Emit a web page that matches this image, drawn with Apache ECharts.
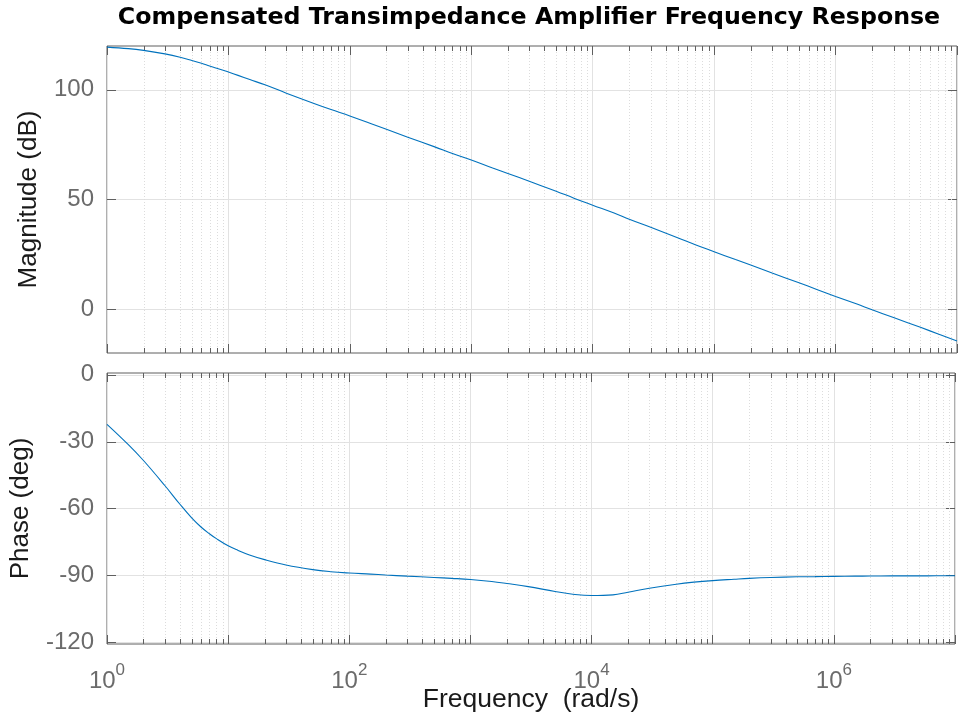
<!DOCTYPE html>
<html>
<head>
<meta charset="utf-8">
<script src="https://cdn.jsdelivr.net/npm/echarts@6/dist/echarts.min.js"></script>
<style>
html,body{margin:0;padding:0;background:#fff;}
#chart{width:958px;height:723px;}
</style>
</head>
<body>
<div id="chart"></div>
<script>
// ---- data ----
const freq = [1, 1.5, 2, 3, 4, 5, 6, 7, 8,
              10, 12, 15, 20, 30, 50, 70,
              100, 150, 200, 300, 500, 700,
              1000, 1500, 2000, 3000, 5000, 7000,
              1e4, 1.5e4, 2e4, 3e4, 5e4, 7e4,
              1e5, 1.5e5, 2e5, 3e5, 5e5, 7e5,
              1e6, 1.5e6, 2e6, 3e6, 5e6, 7e6, 1e7];
const magnitude = [119.5, 118.8, 118.0, 116.4, 114.9, 113.4, 112.1, 110.9, 109.9,
                   108.1, 106.6, 104.7, 102.3, 98.5, 93.9, 91.0,
                   88.1, 84.5, 82.0, 78.4, 74.0, 71.0,
                   68.0, 64.4, 61.9, 58.3, 53.8, 50.6,
                   47.4, 43.8, 41.0, 37.3, 32.6, 29.4,
                   26.2, 22.6, 20.1, 16.5, 12.0, 9.0,
                   5.8, 2.3, -0.3, -3.8, -8.3, -11.3, -14.5];
const phase = [-22.2, -31.3, -38.4, -49.6, -58.0, -64.1, -68.3, -71.2, -73.4,
               -76.6, -78.6, -80.7, -82.8, -85.2, -87.3, -88.2,
               -88.8, -89.3, -89.7, -90.2, -90.8, -91.2,
               -91.7, -92.6, -93.5, -94.9, -97.1, -98.3,
               -98.9, -98.6, -97.4, -95.6, -93.8, -92.9,
               -92.2, -91.6, -91.2, -90.8, -90.5, -90.4,
               -90.3, -90.2, -90.15, -90.1, -90.1, -90.05, -90.05];

// ---- axis ticks / labels ----
const decades = [1, 10, 100, 1000, 1e4, 1e5, 1e6];
const minorMultipliers = [2, 3, 4, 5, 6, 7, 8, 9];
const xLabelExponents = [0, 2, 4, 6];
const magTicks = [0, 50, 100];
const phaseTicks = [-120, -90, -60, -30, 0];

const minorFreqs = [];
decades.forEach(d => minorMultipliers.forEach(m => minorFreqs.push(m * d)));

const GL = 107, GR = 1, GW = 850;
const frameColor = '#5f5f5f';
const labelColor = '#6b6b6b';
const FONT = 'Liberation Sans, Arial, sans-serif';

const chart = echarts.init(document.getElementById('chart'), null, {renderer: 'canvas'});

function xAxisDef(gridIndex, pos, withLabels) {
  const ax = {
    type: 'log', logBase: 10, min: 1, max: 1e7, interval: 1,
    gridIndex: gridIndex, position: pos,
    axisLine: {show: false, onZero: false},
    axisTick: {show: true, inside: true, length: 9, lineStyle: {color: frameColor, width: 1}},
    axisLabel: {show: false},
    splitLine: {show: pos === 'bottom', lineStyle: {color: '#e2e2e2', width: 1}},
    minorTick: {show: false}, minorSplitLine: {show: false}
  };
  if (withLabels) {
    ax.axisLabel = {
      show: true, margin: 18, color: labelColor, fontFamily: FONT,
      formatter: function (v) {
        const e = Math.round(Math.log10(v));
        return xLabelExponents.indexOf(e) >= 0 ? '{b|10}{s|' + e + '}' : '';
      },
      rich: {
        b: {fontSize: 24, fontFamily: FONT, color: labelColor, verticalAlign: 'bottom', lineHeight: 31},
        s: {fontSize: 17, fontFamily: FONT, color: labelColor, verticalAlign: 'top', lineHeight: 31}
      }
    };
    ax.name = 'Frequency  (rad/s)';
    ax.nameLocation = 'middle';
    ax.nameGap = 42;
    ax.nameMoveOverlap = false;
    ax.nameTextStyle = {fontSize: 26.5, fontFamily: FONT, color: '#1a1a1a'};
  }
  return ax;
}

function yAxisDef(gridIndex, pos, min, max, ticks, name, nameGap) {
  const ax = {
    type: 'value', gridIndex: gridIndex, position: pos, min: min, max: max,
    axisLine: {show: false, onZero: false},
    axisTick: {show: true, inside: true, length: 9, customValues: ticks, lineStyle: {color: frameColor, width: 1}},
    axisLabel: {show: pos === 'left', customValues: ticks, margin: 13, fontSize: 24, fontFamily: FONT, color: labelColor},
    splitLine: {show: pos === 'left', lineStyle: {color: '#e2e2e2', width: 1}}
  };
  if (name) {
    ax.name = name;
    ax.nameLocation = 'middle';
    ax.nameRotate = 90;
    ax.nameGap = nameGap;
    ax.nameMoveOverlap = false;
    ax.nameTextStyle = {fontSize: 26, fontFamily: FONT, color: '#1a1a1a'};
  }
  return ax;
}

function minorSeries(xi, yi) {
  return {
    type: 'custom', xAxisIndex: xi, yAxisIndex: yi, silent: true, z: 1,
    data: minorFreqs.map(f => [f]),
    renderItem: function (params, api) {
      const cs = params.coordSys;
      const x = Math.round(api.coord([api.value(0), 0])[0]) + 0.5;
      const top = cs.y, bot = cs.y + cs.height;
      return {
        type: 'group',
        children: [
          {type: 'line', shape: {x1: x, y1: top, x2: x, y2: bot},
           style: {stroke: '#dcdcdc', lineWidth: 1, lineDash: [1, 2]}},
          {type: 'line', shape: {x1: x, y1: top, x2: x, y2: top + 5},
           style: {stroke: frameColor, lineWidth: 1}},
          {type: 'line', shape: {x1: x, y1: bot, x2: x, y2: bot - 5},
           style: {stroke: frameColor, lineWidth: 1}}
        ]
      };
    }
  };
}

const option = {
  backgroundColor: '#fff',
  animation: false,
  graphic: [{
    type: 'text', x: GL + GW / 2 - 3, y: 6, z: 10,
    style: {text: 'Compensated Transimpedance Amplifier Frequency Response',
            fontSize: 23.7, fontWeight: 'bold', fontFamily: 'DejaVu Sans, sans-serif', fill: '#000', textAlign: 'center', textVerticalAlign: 'top'}
  }],
  grid: [
    {left: GL, right: GR, top: 46, height: 307, show: true, borderColor: frameColor, borderWidth: 1, backgroundColor: 'transparent'},
    {left: GL, right: GR, top: 373, height: 271, show: true, borderColor: frameColor, borderWidth: 1, backgroundColor: 'transparent'}
  ],
  xAxis: [
    xAxisDef(0, 'bottom', false),
    xAxisDef(0, 'top', false),
    xAxisDef(1, 'bottom', true),
    xAxisDef(1, 'top', false)
  ],
  yAxis: [
    yAxisDef(0, 'left', -20, 120, magTicks, 'Magnitude (dB)', 65),
    yAxisDef(0, 'right', -20, 120, magTicks, null),
    yAxisDef(1, 'left', -120.6, 0.8, phaseTicks, 'Phase (deg)', 73),
    yAxisDef(1, 'right', -120.6, 0.8, phaseTicks, null)
  ],
  series: [
    minorSeries(0, 0),
    minorSeries(2, 2),
    {
      type: 'line', xAxisIndex: 0, yAxisIndex: 0, z: 3,
      data: freq.map((f, i) => [f, magnitude[i]]),
      showSymbol: false, smooth: 0.4,
      lineStyle: {color: '#0072BD', width: 1.1}
    },
    {
      type: 'line', xAxisIndex: 2, yAxisIndex: 2, z: 3,
      data: freq.map((f, i) => [f, phase[i]]),
      showSymbol: false, smooth: 0.4,
      lineStyle: {color: '#0072BD', width: 1.1}
    }
  ]
};
chart.setOption(option);
</script>
</body>
</html>
